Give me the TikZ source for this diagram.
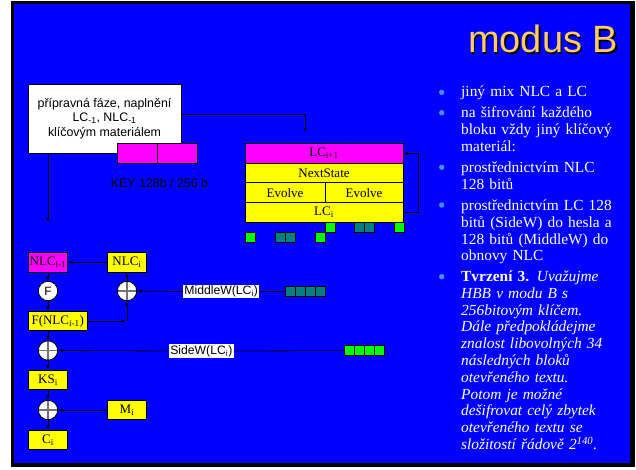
\documentclass[tikz,border=0pt]{standalone}
\usepackage{fontspec}
\setmainfont{Liberation Serif}
\newfontfamily\arialf{Liberation Sans}
\usetikzlibrary{arrows.meta}
\definecolor{bgblue}{RGB}{0,0,255}
\definecolor{ymain}{RGB}{255,255,0}
\definecolor{mag}{RGB}{255,0,255}
\definecolor{sqgreen}{RGB}{0,255,0}
\definecolor{sqteal}{RGB}{0,128,128}
\definecolor{titlec}{RGB}{255,204,102}
\definecolor{bulletc}{RGB}{70,140,255}
\newcommand{\sbs}[1]{\textsubscript{#1}}
\begin{document}
\begin{tikzpicture}[x=1pt,y=-1pt,
  box/.style={draw=black,line width=0.8pt,inner sep=0pt,minimum height=19.6pt,font=\fontsize{13}{14}\selectfont},
  ybox/.style={box,fill=ymain},
  mbox/.style={box,fill=mag},
  lbl/.style={fill=white,inner sep=1.2pt,font=\arialf\fontsize{12.2}{14}\selectfont},
  xor/.style={circle,draw=black,line width=0.8pt,fill=white,minimum size=19.4pt,inner sep=0pt,
    path picture={\draw[black!55,line width=1.3pt] (path picture bounding box.north) -- (path picture bounding box.south)
      (path picture bounding box.west) -- (path picture bounding box.east);}},
  fcirc/.style={circle,draw=black,line width=0.8pt,fill=white,minimum size=19.4pt,inner sep=0pt,font=\arialf\fontsize{12}{14}\selectfont},
  arr/.style={-{Latex[length=4.5pt,width=3.6pt]},line width=0.8pt},
  ln/.style={line width=0.8pt},
  sqg/.style={draw=black,fill=sqgreen,line width=0.7pt},
  sqt/.style={draw=black,fill=sqteal,line width=0.7pt},
  para/.style={anchor=base west,inner sep=0pt,text=white,text width=172pt,align=left,font=\fontsize{15.4}{16.8}\selectfont},
  bul/.style={circle,fill=bulletc,inner sep=0pt,minimum size=5.4pt}]
\useasboundingbox (0,0) rectangle (636,470);
\fill[white] (0,0) rectangle (636,470);
\fill[black] (11,1.5) rectangle (635,467);
\fill[bgblue] (13.5,4) rectangle (630,463);

% title
\node[anchor=base west,inner sep=0pt,font=\arialf\fontsize{38}{40}\selectfont,text=black] (titles) at (469.4,54.4) {modus B};
\node[anchor=base west,inner sep=0pt,font=\arialf\fontsize{38}{40}\selectfont,text=titlec] (title) at (468,53) {modus B};

% init box
\node[draw=black,line width=0.8pt,fill=white,minimum width=153pt,minimum height=69pt,inner sep=0pt,align=center,
  font=\arialf\fontsize{12.4}{14.6}\selectfont] (init) at (104.5,118.5)
  {přípravná fáze, naplnění\\LC\sbs{-1}, NLC\sbs{-1}\\klíčovým materiálem};
\node[mbox,minimum width=40pt,minimum height=20pt] (keya) at (137,153) {};
\node[mbox,minimum width=40pt,minimum height=20pt] (keyb) at (177,153) {};
\node[inner sep=0pt,font=\arialf\fontsize{12.4}{14}\selectfont,text=black] (keyl) at (159.5,183) {KEY 128b / 256 b};

% LC stack
\node[mbox,minimum width=158pt] (lc1) at (324,153.5) {LC\sbs{i+1}};
\node[ybox,minimum width=158pt] (ns) at (324,173) {NextState};
\node[ybox,minimum width=80pt,minimum height=20pt] (ev1) at (285,192.7) {Evolve};
\node[ybox,minimum width=78pt,minimum height=20pt] (ev2) at (364,192.7) {Evolve};
\node[ybox,minimum width=158pt] (lci) at (324,212.5) {LC\sbs{i}};
\draw[arr] (lci.east) -- ++(15.3,0) |- (lc1.east);
\draw[arr,shorten >=11pt] ([yshift=4.5pt]init.east) -| ([xshift=-19pt]lc1.north);

% small squares
\draw[sqg] (245.7,232.3) rectangle ++(10,10);
\draw[sqt] (275.7,232.3) rectangle ++(10,10);
\draw[sqt] (285.7,232.3) rectangle ++(10,10);
\draw[sqg] (315,232.3) rectangle ++(10,10);
\draw[sqg] (325,222.3) rectangle ++(10,10);
\draw[sqt] (354.3,222.3) rectangle ++(10,10);
\draw[sqt] (364.3,222.3) rectangle ++(10,10);
\draw[sqg] (394.3,222.3) rectangle ++(10,10);

% left diagram
\node[mbox,minimum width=39.4pt] (nlcp) at (48,262.3) {NLC\sbs{i-1}};
\node[ybox,minimum width=39.4pt] (nlci) at (127,262.3) {NLC\sbs{i}};
\node[fcirc] (f) at (48,291) {F};
\node[xor] (x1) at (127,291) {};
\node[ybox,minimum width=59pt] (fnlc) at (57.8,321) {F(NLC\sbs{i-1})};
\node[xor] (x2) at (48,350.5) {};
\node[ybox,minimum width=39.4pt] (ks) at (48,380) {KS\sbs{i}};
\node[xor] (x3) at (48,410) {};
\node[ybox,minimum width=39.4pt] (mi) at (127,410) {M\sbs{i}};
\node[ybox,minimum width=39.4pt] (ci) at (48,440) {C\sbs{i}};

\node[lbl] (mwl) at (221.2,291.5) {MiddleW(LC\sbs{i})};
\node[lbl] (swl) at (201.3,351) {SideW(LC\sbs{i})};

\node[sqt,minimum width=39.3pt,minimum height=10pt,inner sep=0pt] (mbar) at (305.4,291.7) {};
\foreach \k in {1,2,3} \draw[line width=0.7pt] ([xshift=\k*9.825pt]mbar.north west) -- ([xshift=\k*9.825pt]mbar.south west);
\node[sqg,minimum width=40pt,minimum height=10pt,inner sep=0pt] (sbar) at (364.3,350.7) {};
\foreach \k in {1,2,3} \draw[line width=0.7pt] ([xshift=\k*10pt]sbar.north west) -- ([xshift=\k*10pt]sbar.south west);

\draw[arr] (init.south -| nlcp.north) -- ([yshift=30pt]nlcp.north);
\draw[arr] (nlci.west) -- (nlcp.east);
\draw[arr] (nlcp.south) -- (f.north);
\draw[arr] (f.south) -- (f.south |- fnlc.north);
\coordinate (corner) at (x1.south |- fnlc.east);
\draw[arr] (fnlc.east) -- ([xshift=-1pt]corner);
\draw[arr] (corner) -- (x1.south);
\draw[arr] (x1.north) -- (nlci.south);
\draw[ln] (mbar.west) -- (mwl.east);
\draw[arr] (mwl.west) -- (x1.east);
\draw[arr] (fnlc.south -| x2.north) -- (x2.north);
\draw[ln] (sbar.west) -- (swl.east);
\draw[arr] (swl.west) -- (x2.east);
\draw[arr] (x2.south) -- (ks.north);
\draw[arr] (ks.south) -- (x3.north);
\draw[arr] (mi.west) -- (x3.east);
\draw[arr] (x3.south) -- (ci.north);

% right text
\node[bul] (b1) at (441.7,92.4) {};
\node[para] (p1) at (461,97) {jiný mix NLC a LC};
\node[bul] (b2) at (441.7,112.7) {};
\node[para] (p2) at (461,118) {na šifrování každého\\bloku vždy jiný klíčový\\materiál:};
\node[bul] (b3) at (441.7,167.3) {};
\node[para] (p3) at (461,172.7) {prostřednictvím NLC\\128 bitů};
\node[bul] (b4) at (441.7,205) {};
\node[para] (p4) at (461,210.4) {prostřednictvím LC 128\\bitů (SideW) do hesla a\\128 bitů (MiddleW) do\\obnovy NLC};
\node[bul] (b5) at (441.7,276.7) {};
\node[para] (p5) at (461,281.4) {\textbf{Tvrzení 3.} \textit{Uvažujme\\HBB v modu B s\\256bitovým klíčem.\\Dále předpokládejme\\znalost libovolných 34\\následných bloků\\otevřeného textu.\\Potom je možné\\dešifrovat celý zbytek\\otevřeného textu se\\složitostí řádově 2\textsuperscript{140}.}};
\end{tikzpicture}
\end{document}
